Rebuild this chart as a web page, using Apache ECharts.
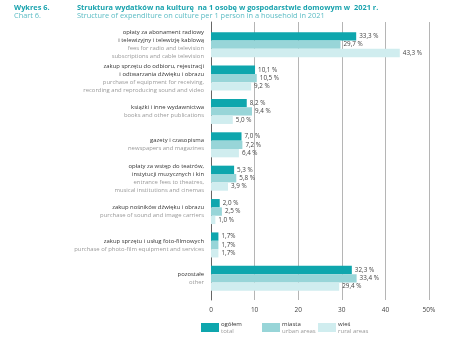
<!DOCTYPE html>
<html><head><meta charset="utf-8">
<script src="https://cdn.jsdelivr.net/npm/echarts@6/dist/echarts.min.js"></script>
<style>html,body{margin:0;padding:0;background:#fff}#c{width:474px;height:337px}</style>
</head><body><div id="c"></div>
<script>
const catPl = [
  'opłaty za abonament radiowy\ni telewizyjny i telewizję kablową',
  'zakup sprzętu do odbioru, rejestracji\ni odtwarzania dźwięku i obrazu',
  'książki i inne wydawnictwa',
  'gazety i czasopisma',
  'opłaty za wstęp do teatrów,\ninstytucji muzycznych i kin',
  'zakup nośników dźwięku i obrazu',
  'zakup sprzętu i usług foto-filmowych',
  'pozostałe'
];
const catEn = [
  'fees for radio and television\nsubscriptions and cable television',
  'purchase of equipment for receiving,\nrecording and reproducing sound and video',
  'books and other publications',
  'newspapers and magazines',
  'entrance fees to theatres,\nmusical institutions and cinemas',
  'purchase of sound and image carriers',
  'purchase of photo-film equipment and services',
  'other'
];
const total = [33.3, 10.1, 8.2, 7.0, 5.3, 2.0, 1.7, 32.3];
const urban = [29.7, 10.5, 9.4, 7.2, 5.8, 2.5, 1.7, 33.4];
const rural = [43.3, 9.2, 5.0, 6.4, 3.9, 1.0, 1.7, 29.4];
const xTicks = ['0', '10', '20', '30', '40', '50%'];
const seriesNames = ['ogółem', 'miasta', 'wieś'];
const seriesEn = ['total', 'urban areas', 'rural areas'];
const colors = ['#0ea6ad', '#98d5d8', '#d0edef'];

const cats = catPl.map((p, i) => i);
const fmtCat = (v, i) => {
  const idx = Number(v);
  const pl = catPl[idx].split('\n').map(s => '{p|' + s + '}').join('\n');
  const en = catEn[idx].split('\n').map(s => '{e|' + s + '}').join('\n');
  return pl + '\n' + en;
};
const valLabel = {
  show: true, position: 'right', distance: 3, fontSize: 6.3, color: '#444',
  fontFamily: 'Open Sans',
  formatter: p => p.value.toFixed(1).replace('.', ',') + (p.dataIndex === 6 ? '%' : ' %')
};
const chart = echarts.init(document.getElementById('c'), null, {renderer: 'canvas'});
const mkSeries = (name, data, color) => ({
  name, type: 'bar', data, xAxisIndex: 1, yAxisIndex: 1,
  itemStyle: {color}, barGap: '0%', barCategoryGap: '25%', label: valLabel
});
const legendBase = (name, left) => ({
  data: [name], left, top: 321, itemWidth: 18, itemHeight: 9, itemGap: 0,
  icon: 'rect', padding: 0,
  formatter: n => '{a|' + n + '}\n{b|' + seriesEn[seriesNames.indexOf(n)] + '}',
  textStyle: {rich: {
    a: {fontSize: 6, color: '#333', fontFamily: 'Open Sans', lineHeight: 7},
    b: {fontSize: 6, color: '#999', fontFamily: 'Open Sans', lineHeight: 7}
  }, padding: [0, 0, 0, -3]}
});
chart.setOption({
  animation: false,
  title: [
    {text: 'Wykres 6.', subtext: 'Chart 6.', left: 14, top: 4, itemGap: 1, padding: 0,
     textStyle: {fontSize: 7.4, fontWeight: 'bold', color: '#1aa3ae', fontFamily: 'Open Sans'},
     subtextStyle: {fontSize: 7.4, color: '#5cbcc4', fontFamily: 'Open Sans'}},
    {text: 'Struktura wydatków na kulturę  na 1 osobę w gospodarstwie domowym w  2021 r.',
     subtext: 'Structure of expenditure on culture per 1 person in a household in 2021',
     left: 77, top: 4, itemGap: 1, padding: 0,
     textStyle: {fontSize: 7.4, fontWeight: 'bold', color: '#1aa3ae', fontFamily: 'Open Sans'},
     subtextStyle: {fontSize: 7.4, color: '#5cbcc4', fontFamily: 'Open Sans'}}
  ],
  legend: [legendBase('ogółem', 201), legendBase('miasta', 262), legendBase('wieś', 318)],
  grid: [
    {left: 211, width: 218, top: 22, height: 278},
    {left: 211, width: 218, top: 28, height: 267}
  ],
  xAxis: [
    {type: 'value', gridIndex: 0, min: 0, max: 50, interval: 10,
     axisLine: {show: false}, axisTick: {show: false},
     axisLabel: {fontSize: 6.5, color: '#444', margin: 7, fontFamily: 'Open Sans',
       formatter: v => xTicks[v / 10]},
     splitLine: {lineStyle: {color: '#b5b5b5', width: 1}}},
    {type: 'value', gridIndex: 1, min: 0, max: 50, show: false, splitLine: {show: false}}
  ],
  yAxis: [
    {type: 'category', gridIndex: 0, data: cats, inverse: true,
     axisLine: {show: true, lineStyle: {color: '#666', width: 1}},
     axisTick: {show: false}, axisLabel: {show: false}},
    {type: 'category', gridIndex: 1, data: cats, inverse: true,
     axisLine: {show: false}, axisTick: {show: false},
     axisLabel: {margin: 7, formatter: fmtCat, align: 'right',
       rich: {
         p: {fontSize: 5.9, color: '#333', lineHeight: 8, fontFamily: 'Open Sans', align: 'right'},
         e: {fontSize: 5.9, color: '#999', lineHeight: 8, fontFamily: 'Open Sans', align: 'right'}
       }}}
  ],
  series: [
    mkSeries('ogółem', total, colors[0]),
    mkSeries('miasta', urban, colors[1]),
    mkSeries('wieś', rural, colors[2])
  ]
});
</script></body></html>
